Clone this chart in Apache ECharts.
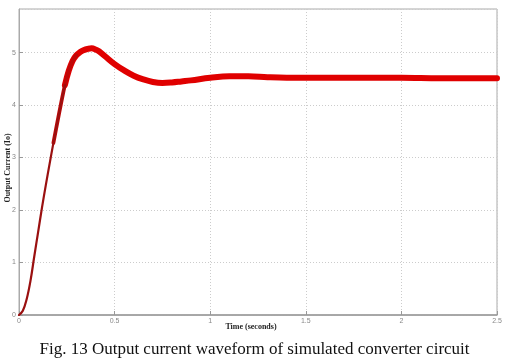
<!DOCTYPE html>
<html><head><meta charset="utf-8">
<script src="https://cdn.jsdelivr.net/npm/echarts@6/dist/echarts.min.js"></script>
<style>html,body{margin:0;padding:0;background:#fff}#c{width:509px;height:363px}</style>
</head><body><div id="c"></div>
<script>
var timeS = [0,0.02,0.04,0.06,0.08,0.1,0.12,0.14,0.16,0.18,0.2,0.22,0.24,0.26,0.28,0.3,0.32,0.34,0.36,0.38,0.4,0.42,0.45,0.5,0.55,0.6,0.65,0.7,0.75,0.8,0.85,0.9,1.0,1.1,1.2,1.3,1.4,1.6,1.8,2.0,2.2,2.5];
var currentIo = [0,0.08,0.3,0.65,1.12,1.58,2.04,2.47,2.88,3.28,3.66,4.03,4.38,4.65,4.84,4.95,5.01,5.05,5.07,5.08,5.06,5.02,4.93,4.78,4.66,4.56,4.49,4.44,4.42,4.43,4.45,4.47,4.52,4.55,4.55,4.53,4.52,4.52,4.52,4.52,4.51,4.51];
var xTicks = [0,0.5,1,1.5,2,2.5];
var yTicks = [0,1,2,3,4,5];
var caption = 'Fig. 13 Output current waveform of simulated converter circuit';
var yName = 'Output Current (Io)';
var xName = 'Time (seconds)';
var pts = timeS.map(function(t,i){return [t,currentIo[i]];});
var chart = echarts.init(document.getElementById('c'));
chart.setOption({
  animation:false,
  title:{text:caption,left:'center',top:336,textStyle:{fontFamily:'Liberation Serif',fontSize:17,fontWeight:'normal',color:'#111'}},
  graphic:[
    {type:'text',x:8,y:168,rotation:Math.PI/2,style:{text:yName,font:'bold 8px "Liberation Serif"',fill:'#222',align:'center',verticalAlign:'middle'}},
    {type:'text',x:251,y:327,style:{text:xName,font:'bold 8px "Liberation Serif"',fill:'#222',align:'center',verticalAlign:'middle'}}
  ],
  grid:{left:19,right:12,top:9,bottom:48,containLabel:false,outerBoundsMode:'none',show:true,borderColor:'#aaa',borderWidth:1},
  xAxis:{type:'value',min:0,max:2.5,interval:0.5,
    axisLine:{lineStyle:{color:'#999',width:1.5}},
    axisTick:{inside:true,length:4,lineStyle:{color:'#999'}},
    axisLabel:{fontSize:7,color:'#888',margin:3,formatter:function(v){return xTicks.indexOf(v)>=0?String(v):'';}},
    splitLine:{show:true,lineStyle:{type:[1,2],color:'#ccc'}}},
  yAxis:{type:'value',min:0,max:5.83,interval:1,
    axisLine:{show:true,lineStyle:{color:'#aaa'}},
    axisTick:{inside:true,length:4,lineStyle:{color:'#999'}},
    axisLabel:{fontSize:7,color:'#888',margin:3,showMaxLabel:false,formatter:function(v){return yTicks.indexOf(v)>=0?String(v):'';}},
    splitLine:{show:true,lineStyle:{type:[1,2],color:'#ccc'}}},
  series:[
    {type:'line',data:pts.slice(12),showSymbol:false,smooth:0.4,lineStyle:{color:'#e00000',width:6,cap:'round'},z:2},
    {type:'line',data:pts.slice(9,16),showSymbol:false,smooth:0.4,lineStyle:{color:'#c00808',width:3.8,cap:'round'},z:3},
    {type:'line',data:pts.slice(0,13),showSymbol:false,smooth:0.4,lineStyle:{color:'#9a1010',width:2.2,cap:'round'},z:4}
  ]
});
</script></body></html>
